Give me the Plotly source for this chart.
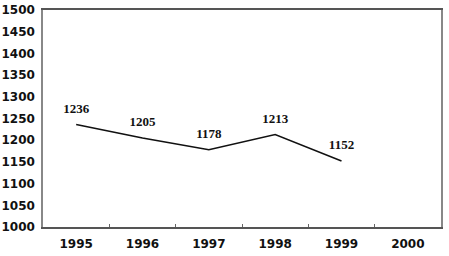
import plotly.graph_objects as go

years = ["1995", "1996", "1997", "1998", "1999", "2000"]
values = [1236, 1205, 1178, 1213, 1152, None]
labels = ["1236", "1205", "1178", "1213", "1152", ""]
y_ticks = list(range(1000, 1501, 50))

tick_font = dict(family="DejaVu Sans", size=12, color="#111", weight="bold")

fig = go.Figure()
fig.add_trace(go.Scatter(
    x=years, y=values, mode="lines+markers+text", text=labels,
    textposition="top center",
    textfont=dict(family="Liberation Serif", size=13, color="#111", weight="bold"),
    line=dict(color="#111", width=1.6),
    marker=dict(size=12, color="rgba(0,0,0,0)"),
    cliponaxis=False, showlegend=False, hoverinfo="skip",
))
fig.update_layout(
    width=449, height=256,
    margin=dict(l=43, r=8, t=10, b=29),
    paper_bgcolor="white", plot_bgcolor="white",
)
fig.update_xaxes(
    type="category", categoryorder="array", categoryarray=years,
    range=[-0.5, 5.5], automargin=False,
    showline=True, linecolor="#555", linewidth=1.5, mirror=True,
    ticks="inside", tickson="boundaries", ticklen=3, tickcolor="#666",
    ticklabelstandoff=5,
    tickfont=tick_font, showgrid=False,
)
fig.update_yaxes(
    range=[1000, 1500], tickvals=y_ticks, automargin=False,
    showline=True, linecolor="#888", linewidth=1.5, mirror=True,
    ticks="", ticklabelstandoff=4, showgrid=False, zeroline=False,
    tickfont=tick_font,
)
fig.write_html("out.html", config={"displayModeBar": False},
               post_script="document.body.style.margin='0';")
